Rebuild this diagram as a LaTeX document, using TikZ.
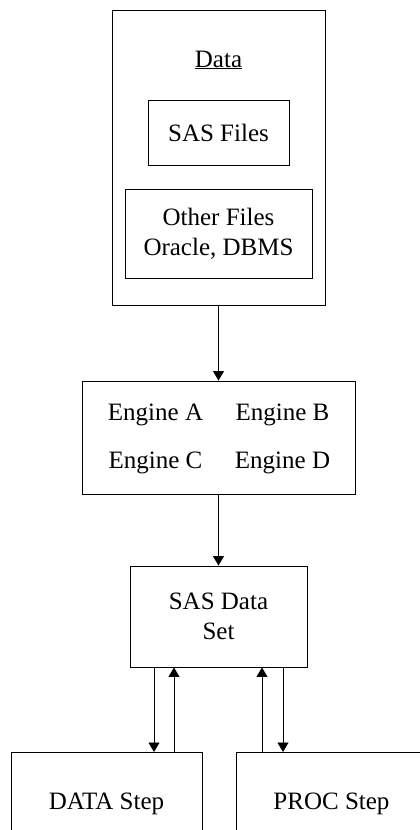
\documentclass[tikz,border=0pt]{standalone}
\usepackage{fontspec}
\setmainfont{Liberation Serif}
\usetikzlibrary{arrows.meta}
\begin{document}
\begin{tikzpicture}[x=1pt,y=-1pt,
  box/.style={draw, line width=0.9pt, inner sep=0pt, align=center, font=\fontsize{25}{30.5}\selectfont},
  txt/.style={inner sep=0pt, font=\fontsize{25}{30}\selectfont},
  arr/.style={line width=0.9pt, -{Triangle[width=11pt,length=9.5pt]}}]
\useasboundingbox (0,0) rectangle (420,830);
\clip (0,0) rectangle (420,830);
% Data container
\node[box, minimum width=213, minimum height=295] (data) at (218.5,157.5) {};
\node[txt, anchor=base] (datalbl) at (218.5,67) {\underline{Data}};
\node[box, minimum width=141, minimum height=65] (sasfiles) at (218.5,132.5) {SAS Files};
\node[box, minimum width=187, minimum height=89] (other) at (218.5,233.5) {Other Files\\Oracle, DBMS};
% Engines
\node[box, minimum width=273, minimum height=113] (eng) at (218.5,437.5) {};
\node[txt, anchor=base] (ea) at (155.5,420) {Engine A};
\node[txt, anchor=base] (eb) at (282.5,420) {Engine B};
\node[txt, anchor=base] (ec) at (155.5,468) {Engine C};
\node[txt, anchor=base] (ed) at (282.5,468) {Engine D};
% SAS Data Set
\node[box, minimum width=177, minimum height=101] (sds) at (218.5,616.5) {SAS Data\\Set};
% Steps (cut off at the bottom)
\node[box, anchor=north, minimum width=191, text height=57pt, text depth=100pt] (ds) at (106.5,752) {DATA Step};
\node[box, anchor=north west, minimum width=190, text height=57pt, text depth=100pt] (ps) at (236,752) {PROC Step};
% connectors
\draw[arr] (data.south) -- (eng.north);
\draw[arr] (eng.south) -- (sds.north);
\draw[arr] (154,0 |- sds.south) -- (154,0 |- ds.north);
\draw[arr] (174,0 |- ds.north) -- (174,0 |- sds.south);
\draw[arr] (262,0 |- ps.north) -- (262,0 |- sds.south);
\draw[arr] (283,0 |- sds.south) -- (283,0 |- ps.north);
\end{tikzpicture}
\end{document}
